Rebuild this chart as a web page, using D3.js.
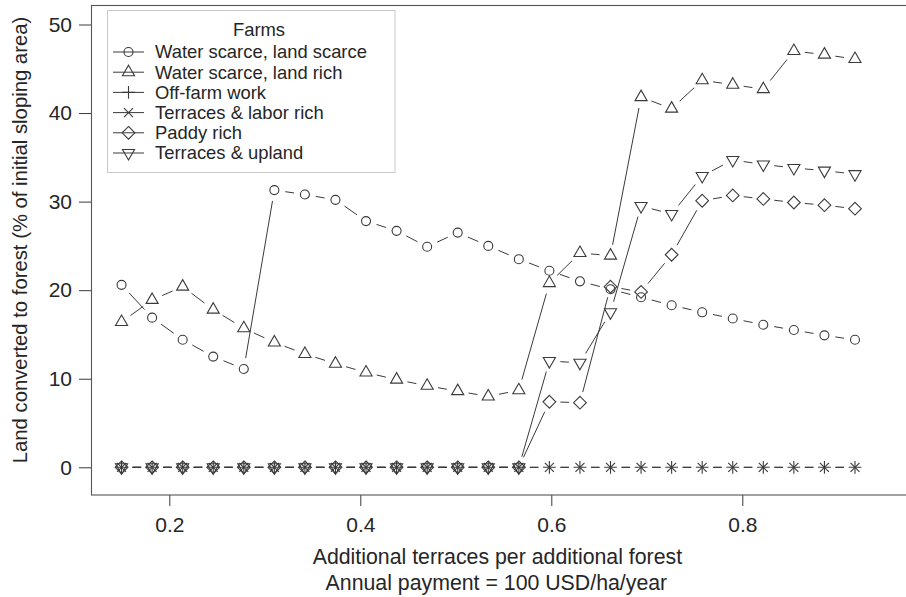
<!DOCTYPE html>
<html>
<head>
<meta charset="utf-8">
<script src="https://cdn.jsdelivr.net/npm/d3@7"></script>
<style>
  html, body { margin: 0; padding: 0; background: #fff; }
  svg { display: block; font-family: "Liberation Sans", Arial, Helvetica, sans-serif; }
</style>
</head>
<body>
<svg id="chart" width="906" height="597"></svg>
<script>
// Ratio of additional terraces per additional forest (x values of every series)
const ratios = [0.150, 0.182, 0.214, 0.246, 0.278, 0.310, 0.342, 0.374, 0.406, 0.438,
                0.470, 0.502, 0.534, 0.566, 0.598, 0.630, 0.662, 0.694, 0.726, 0.758,
                0.790, 0.822, 0.854, 0.886, 0.918];

// Land converted to forest, % of initial sloping area, per farm type
const waterScarceLandScarce = [20.6, 16.9, 14.4, 12.5, 11.1, 31.3, 30.8, 30.2, 27.8, 26.7,
                               24.9, 26.5, 25.0, 23.5, 22.2, 21.0, 20.1, 19.2, 18.3, 17.5,
                               16.8, 16.1, 15.5, 14.9, 14.4];
const waterScarceLandRich = [16.4, 18.9, 20.4, 17.8, 15.7, 14.1, 12.8, 11.7, 10.7, 9.9,
                             9.2, 8.6, 8.0, 8.7, 20.8, 24.2, 23.9, 41.8, 40.5, 43.7,
                             43.2, 42.7, 47.0, 46.6, 46.1];
const offFarmWork = [0, 0, 0, 0, 0, 0, 0, 0, 0, 0, 0, 0, 0, 0, 0, 0, 0, 0, 0, 0, 0, 0, 0, 0, 0];
const terracesLaborRich = [0, 0, 0, 0, 0, 0, 0, 0, 0, 0, 0, 0, 0, 0, 0, 0, 0, 0, 0, 0, 0, 0, 0, 0, 0];
const paddyRich = [0, 0, 0, 0, 0, 0, 0, 0, 0, 0, 0, 0, 0, 0, 7.4, 7.3, 20.4, 19.8, 24.0, 30.1,
                   30.7, 30.3, 29.9, 29.6, 29.2];
const terracesUpland = [0, 0, 0, 0, 0, 0, 0, 0, 0, 0, 0, 0, 0, 0, 12.0, 11.8, 17.5, 29.5, 28.6, 32.9,
                        34.7, 34.2, 33.8, 33.5, 33.1];

const farmNames = ["Water scarce, land scarce", "Water scarce, land rich", "Off-farm work",
                   "Terraces & labor rich", "Paddy rich", "Terraces & upland"];
const farmShapes = ["circle", "triangleUp", "plus", "cross", "diamond", "triangleDown"];
const farmValues = [waterScarceLandScarce, waterScarceLandRich, offFarmWork,
                    terracesLaborRich, paddyRich, terracesUpland];

const xTicks = [0.2, 0.4, 0.6, 0.8];
const yTicks = [0, 10, 20, 30, 40, 50];

const legendTitle = "Farms";
const xTitle1 = "Additional terraces per additional forest";
const xTitle2 = "Annual payment = 100 USD/ha/year";
const yTitle = "Land converted to forest (% of initial sloping area)";

// ---- layout ----
const svg = d3.select("#chart");
const plot = { left: 91, right: 906, top: 5.5, bottom: 495 };
const ink = "#3a3a3a";
const textInk = "#262626";

const x = d3.scaleLinear().domain([0.2, 0.8]).range([169.3, 742.3]);
const y = d3.scaleLinear().domain([0, 50]).range([467.3, 24.5]);

// symbol paths in the style of R's pch 1..6
const R = 4.5;
function symbolPath(shape, cx, cy) {
  const p = d3.path();
  if (shape === "circle") {
    p.moveTo(cx + R, cy);
    p.arc(cx, cy, R, 0, 2 * Math.PI);
  } else if (shape === "triangleUp" || shape === "triangleDown") {
    const s = shape === "triangleUp" ? 1 : -1;
    const apex = 1.5551 * R, base = 0.7776 * R, half = 1.3468 * R;
    p.moveTo(cx, cy - s * apex);
    p.lineTo(cx + half, cy + s * base);
    p.lineTo(cx - half, cy + s * base);
    p.closePath();
  } else if (shape === "plus") {
    const h = Math.SQRT2 * R;
    p.moveTo(cx - h, cy); p.lineTo(cx + h, cy);
    p.moveTo(cx, cy - h); p.lineTo(cx, cy + h);
  } else if (shape === "cross") {
    p.moveTo(cx - R, cy - R); p.lineTo(cx + R, cy + R);
    p.moveTo(cx - R, cy + R); p.lineTo(cx + R, cy - R);
  } else if (shape === "diamond") {
    const h = Math.SQRT2 * R;
    p.moveTo(cx, cy - h); p.lineTo(cx + h, cy);
    p.lineTo(cx, cy + h); p.lineTo(cx - h, cy);
    p.closePath();
  }
  return p.toString();
}

// ---- axes ----
const yAxis = svg.append("g")
  .attr("transform", `translate(${plot.left},0)`)
  .call(d3.axisLeft(y).tickValues(yTicks).tickSize(12).tickPadding(7).tickFormat(d3.format("d")));
const xAxis = svg.append("g")
  .attr("transform", `translate(0,${plot.bottom})`)
  .call(d3.axisBottom(x).tickValues(xTicks).tickSize(11).tickPadding(11).tickFormat(d3.format(".1f")));
[yAxis, xAxis].forEach(g => {
  g.select(".domain").remove();
  g.selectAll(".tick line").attr("stroke", ink).attr("stroke-width", 1);
  g.selectAll(".tick text").attr("fill", textInk)
    .style("font-size", "21px").style("font-family", '"Liberation Sans", Arial, sans-serif');
});

// plot frame
svg.append("rect")
  .attr("x", plot.left + 0.5).attr("y", plot.top)
  .attr("width", plot.right - plot.left + 2).attr("height", plot.bottom - plot.top)
  .attr("fill", "none").attr("stroke", "#555").attr("stroke-width", 1.1);

// ---- series: points joined by lines that stop short of each symbol ----
const gap = 11;
const seriesG = svg.append("g");
farmValues.forEach((vals, si) => {
  const pts = vals.map((v, i) => [x(ratios[i]), y(v)]);
  const g = seriesG.append("g");
  for (let i = 0; i < pts.length - 1; i++) {
    const [x1, y1] = pts[i], [x2, y2] = pts[i + 1];
    const d = Math.hypot(x2 - x1, y2 - y1);
    if (d <= 2 * gap) continue;
    const ux = (x2 - x1) / d, uy = (y2 - y1) / d;
    g.append("line")
      .attr("x1", x1 + ux * gap).attr("y1", y1 + uy * gap)
      .attr("x2", x2 - ux * gap).attr("y2", y2 - uy * gap)
      .attr("stroke", ink).attr("stroke-width", 1);
  }
  g.selectAll("path.pt").data(pts).enter().append("path")
    .attr("class", "pt")
    .attr("d", p => symbolPath(farmShapes[si], p[0], p[1]))
    .attr("fill", "none").attr("stroke", ink).attr("stroke-width", 1.1);
});

// ---- legend ----
const lg = svg.append("g");
lg.append("rect")
  .attr("x", 107.5).attr("y", 10.5).attr("width", 287.5).attr("height", 162)
  .attr("fill", "#fff").attr("stroke", "#c8c8c8").attr("stroke-width", 1);
lg.append("text")
  .attr("x", 259).attr("y", 35.7).attr("text-anchor", "middle")
  .attr("fill", textInk).style("font-size", "18.4px").text(legendTitle);
farmNames.forEach((name, i) => {
  const base = 58.3 + i * 20.2;
  const cy = base - 6.3;
  lg.append("line").attr("x1", 113).attr("x2", 144).attr("y1", cy).attr("y2", cy)
    .attr("stroke", ink).attr("stroke-width", 1);
  lg.append("path").attr("d", symbolPath(farmShapes[i], 128.5, cy))
    .attr("fill", "none").attr("stroke", ink).attr("stroke-width", 1.1);
  lg.append("text").attr("x", 155).attr("y", base)
    .attr("fill", textInk).style("font-size", "18.4px").text(name);
});

// ---- axis titles ----
svg.append("text")
  .attr("x", 497.4).attr("y", 564).attr("text-anchor", "middle")
  .attr("fill", textInk).style("font-size", "21.3px").text(xTitle1);
svg.append("text")
  .attr("x", 496.4).attr("y", 590).attr("text-anchor", "middle")
  .attr("fill", textInk).style("font-size", "21.3px").text(xTitle2);
svg.append("text")
  .attr("transform", "translate(27,240) rotate(-90)")
  .attr("text-anchor", "middle")
  .attr("fill", textInk).style("font-size", "20.3px").text(yTitle);
</script>
</body>
</html>
